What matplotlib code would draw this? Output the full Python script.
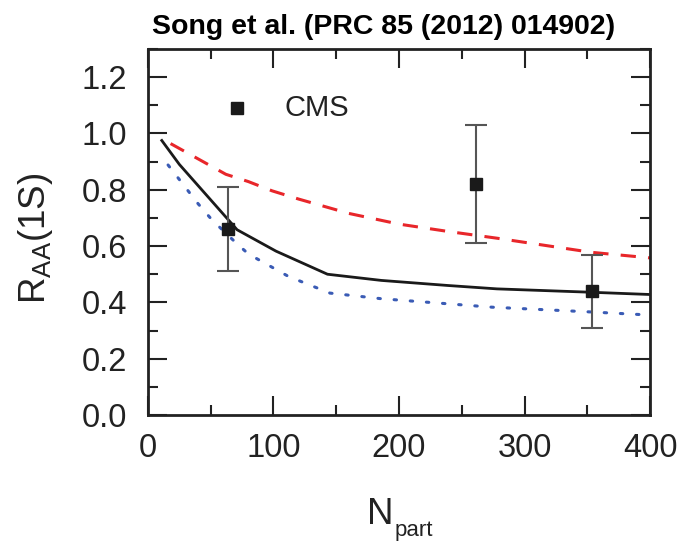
import matplotlib
matplotlib.use("Agg")
import matplotlib.pyplot as plt
from matplotlib.ticker import MultipleLocator, FormatStrFormatter

plt.rcParams['font.family'] = ['Liberation Sans', 'DejaVu Sans']

# CMS data
cms_npart = [64, 261, 354]
cms_raa = [0.66, 0.82, 0.44]
cms_lo = [0.15, 0.21, 0.13]
cms_hi = [0.15, 0.21, 0.13]

# model curves
solid_x = [11, 25, 71, 102, 143, 186, 239, 278, 353, 400]
solid_y = [0.975, 0.89, 0.658, 0.582, 0.50, 0.478, 0.46, 0.448, 0.436, 0.428]

dash_x = [18, 62, 80, 99, 120, 160, 200, 239, 278, 353, 400]
dash_y = [0.964, 0.855, 0.829, 0.796, 0.767, 0.716, 0.678, 0.652, 0.628, 0.578, 0.558]

dot_x = [16, 40, 51, 70, 80, 112, 145, 186, 239, 274, 353, 400]
dot_y = [0.888, 0.75, 0.693, 0.612, 0.572, 0.492, 0.433, 0.413, 0.395, 0.383, 0.366, 0.355]

fig = plt.figure(figsize=(6.81, 5.43), dpi=100)
ax = fig.add_axes([0.2173, 0.2357, 0.7372, 0.6741])

ax.plot(dash_x, dash_y, color='#e8262a', lw=2.2, dashes=(5, 4))
ax.plot(dot_x, dot_y, color='#3a5bb5', lw=2.2, dashes=(0.8, 4.5), dash_capstyle='round')
ax.plot(solid_x, solid_y, color='#1a1a1a', lw=2.0)

ax.errorbar(cms_npart, cms_raa, yerr=[cms_lo, cms_hi], fmt='none',
            ecolor='#555555', elinewidth=1.5, capsize=8, capthick=1.5)
ax.plot(cms_npart, cms_raa, 's', color='#1a1a1a', ms=8)

# legend
ax.plot([71], [1.09], 's', color='#1a1a1a', ms=8)
ax.text(109, 1.09, 'CMS', fontsize=21, va='center', ha='left', color='#222222')

ax.set_xlim(0, 400)
ax.set_ylim(0, 1.3)
ax.xaxis.set_major_locator(MultipleLocator(100))
ax.xaxis.set_minor_locator(MultipleLocator(50))
ax.yaxis.set_major_locator(MultipleLocator(0.2))
ax.yaxis.set_minor_locator(MultipleLocator(0.1))
ax.yaxis.set_major_formatter(FormatStrFormatter('%.1f'))

ax.tick_params(which='both', direction='in', top=True, right=True,
               labelsize=23.5, labelcolor='#222222', width=1.5, color='#222222')
ax.tick_params(which='major', length=14)
ax.tick_params(which='minor', length=7)
ax.tick_params(axis='x', which='major', pad=13)
ax.tick_params(axis='y', which='major', pad=15)
for s in ax.spines.values():
    s.set_linewidth(2)
    s.set_color('#222222')

ax.set_ylabel(r'R$_{\mathregular{AA}}$(1S)', fontsize=26.5, color='#222222')
ax.yaxis.set_label_coords(-0.185, 0.484)

# x label: N with a low subscript
fig.text(367 / 681, 1 - 524 / 543, 'N', fontsize=26.5, color='#222222',
         ha='left', va='baseline')
fig.text(395 / 681, 1 - 536 / 543, 'part', fontsize=16, color='#222222',
         ha='left', va='baseline')

fig.text(0.563, 0.95, 'Song et al. (PRC 85 (2012) 014902)', fontsize=20.5,
         fontweight='bold', ha='center', va='center')

fig.savefig('out.png', dpi=100)
